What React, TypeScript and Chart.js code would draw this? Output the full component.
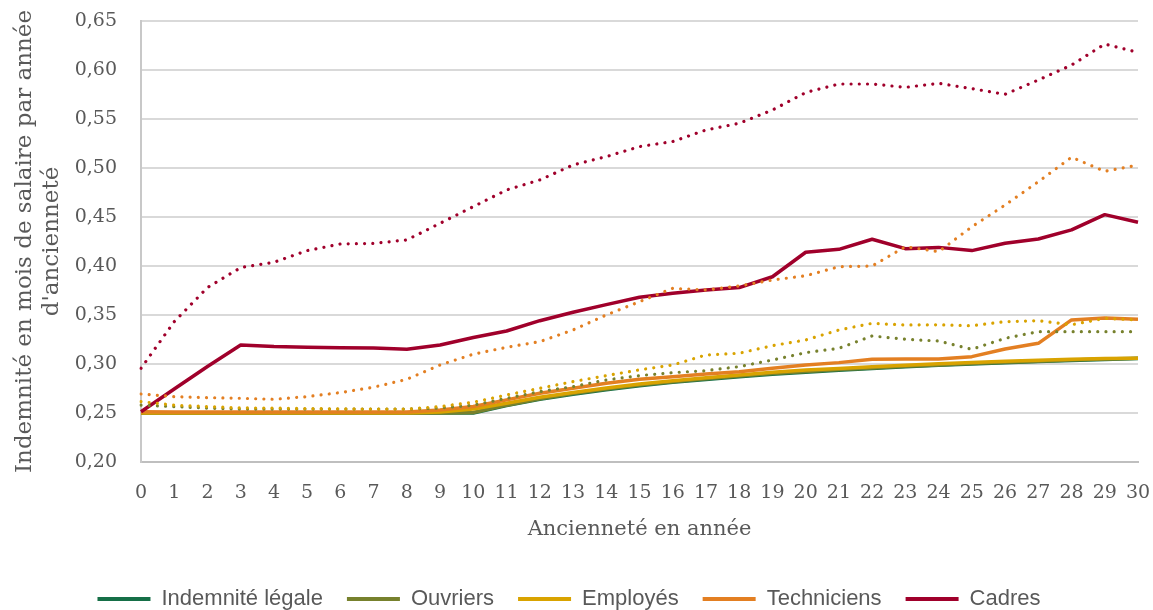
import React, { useEffect, useRef } from 'react';
import { Chart, registerables } from 'chart.js';

Chart.register(...registerables);

const years = ['0', '1', '2', '3', '4', '5', '6', '7', '8', '9', '10', '11', '12', '13', '14', '15', '16', '17', '18', '19', '20', '21', '22', '23', '24', '25', '26', '27', '28', '29', '30'];

const legale = [0.25, 0.25, 0.25, 0.25, 0.25, 0.25, 0.25, 0.25, 0.25, 0.25, 0.25, 0.2576, 0.2639, 0.2692, 0.2738, 0.2778, 0.2813, 0.2843, 0.287, 0.2895, 0.2917, 0.2937, 0.2955, 0.2971, 0.2986, 0.3, 0.3013, 0.3025, 0.3036, 0.3046, 0.3056];
const ouvriers = [0.25, 0.25, 0.25, 0.25, 0.25, 0.25, 0.25, 0.25, 0.25, 0.25, 0.2505, 0.258, 0.2645, 0.27, 0.2745, 0.2785, 0.282, 0.285, 0.2877, 0.2902, 0.2923, 0.2943, 0.296, 0.2976, 0.299, 0.3004, 0.3017, 0.3029, 0.304, 0.305, 0.3058];
const employes = [0.25, 0.25, 0.25, 0.25, 0.25, 0.25, 0.25, 0.25, 0.25, 0.251, 0.254, 0.26, 0.266, 0.271, 0.2755, 0.2795, 0.283, 0.286, 0.2888, 0.2915, 0.2938, 0.2955, 0.2972, 0.2988, 0.3002, 0.3015, 0.3027, 0.3038, 0.3048, 0.3057, 0.3058];
const techniciens = [0.2513, 0.251, 0.251, 0.251, 0.251, 0.251, 0.251, 0.251, 0.251, 0.253, 0.2566, 0.2634, 0.2702, 0.2752, 0.2803, 0.2844, 0.287, 0.2898, 0.2922, 0.2956, 0.299, 0.3014, 0.3048, 0.305, 0.3052, 0.3075, 0.3153, 0.3211, 0.345, 0.347, 0.3456];
const cadres = [0.2513, 0.2745, 0.2975, 0.3194, 0.3178, 0.317, 0.3167, 0.3163, 0.315, 0.3194, 0.327, 0.3337, 0.3442, 0.3528, 0.3606, 0.3681, 0.3722, 0.3755, 0.378, 0.389, 0.414, 0.417, 0.4273, 0.4177, 0.419, 0.4157, 0.4232, 0.4276, 0.4368, 0.4524, 0.4446];

const ouvriersPointille = [0.258, 0.2565, 0.255, 0.254, 0.254, 0.254, 0.254, 0.254, 0.254, 0.255, 0.258, 0.265, 0.2718, 0.2769, 0.2837, 0.2881, 0.2912, 0.2932, 0.2973, 0.3041, 0.3116, 0.316, 0.3286, 0.3252, 0.3235, 0.315, 0.3262, 0.333, 0.333, 0.333, 0.333];
const employesPointille = [0.2616, 0.258, 0.2565, 0.2552, 0.255, 0.2545, 0.2542, 0.254, 0.254, 0.2566, 0.261, 0.2684, 0.2752, 0.282, 0.2881, 0.294, 0.299, 0.3092, 0.311, 0.3187, 0.3245, 0.3347, 0.3415, 0.3398, 0.34, 0.339, 0.3432, 0.3442, 0.34, 0.3466, 0.345];
const techniciensPointille = [0.2694, 0.2667, 0.2657, 0.265, 0.264, 0.2667, 0.2708, 0.2763, 0.2844, 0.299, 0.31, 0.317, 0.3228, 0.3347, 0.35, 0.3636, 0.3772, 0.3755, 0.3796, 0.3857, 0.39, 0.3993, 0.4, 0.4197, 0.4146, 0.44, 0.4622, 0.486, 0.511, 0.4966, 0.503];
const cadresPointille = [0.2956, 0.3432, 0.378, 0.3984, 0.4038, 0.4157, 0.4225, 0.423, 0.4266, 0.4436, 0.4606, 0.4776, 0.4878, 0.5031, 0.5116, 0.5218, 0.527, 0.5388, 0.5456, 0.5592, 0.577, 0.5857, 0.5857, 0.5823, 0.5864, 0.581, 0.5752, 0.5898, 0.605, 0.6265, 0.618];

const seriesNames = ['Indemnité légale', 'Ouvriers', 'Employés', 'Techniciens', 'Cadres'];
const seriesColors = ['#166F47', '#77812D', '#D9A300', '#E37F22', '#A0002B'];

const yTitle = ['Indemnité en mois de salaire par année', "d'ancienneté"];
const xTitle = 'Ancienneté en année';

export default function App() {
  const ref = useRef<HTMLCanvasElement>(null);

  useEffect(() => {
    document.body.style.margin = '0';
    const canvas = ref.current;
    if (!canvas) return;

    const solid = (label: string, data: number[], color: string, order: number) => ({
      label,
      data,
      borderColor: color,
      backgroundColor: color,
      borderWidth: 3.5,
      pointRadius: 0,
      pointHoverRadius: 0,
      tension: 0,
      fill: false,
      order,
      borderJoinStyle: 'round' as const,
    });
    const dotted = (label: string, data: number[], color: string, order: number) => ({
      label,
      data,
      borderColor: color,
      backgroundColor: color,
      borderWidth: 3.2,
      borderDash: [0.001, 8.2],
      borderCapStyle: 'round' as const,
      pointRadius: 0,
      pointHoverRadius: 0,
      tension: 0,
      fill: false,
      order,
    });

    const serif = 'DejaVu Serif';
    const clear = 'rgba(0,0,0,0)';
    const chart = new Chart(canvas, {
      type: 'line',
      data: {
        labels: years,
        datasets: [
          solid(seriesNames[0], legale, seriesColors[0], 9),
          solid(seriesNames[1], ouvriers, seriesColors[1], 8),
          solid(seriesNames[2], employes, seriesColors[2], 7),
          solid(seriesNames[3], techniciens, seriesColors[3], 6),
          solid(seriesNames[4], cadres, seriesColors[4], 5),
          dotted(seriesNames[1] + ' (pointillé)', ouvriersPointille, seriesColors[1], 4),
          dotted(seriesNames[2] + ' (pointillé)', employesPointille, seriesColors[2], 3),
          dotted(seriesNames[3] + ' (pointillé)', techniciensPointille, seriesColors[3], 2),
          dotted(seriesNames[4] + ' (pointillé)', cadresPointille, seriesColors[4], 1),
        ],
      },
      options: {
        responsive: false,
        animation: false,
        devicePixelRatio: 1,
        layout: { padding: { top: 21, right: 15, bottom: 0, left: 0 } },
        plugins: {
          tooltip: { enabled: false },
          legend: {
            display: true,
            position: 'bottom',
            labels: {
              boxWidth: 53,
              boxHeight: 4,
              padding: 24,
              color: '#595959',
              font: { family: 'Liberation Sans', size: 22 },
              generateLabels: () =>
                seriesNames.map((name, i) => ({
                  text: name,
                  fillStyle: seriesColors[i],
                  strokeStyle: seriesColors[i],
                  lineWidth: 0,
                  hidden: false,
                  datasetIndex: i,
                  fontColor: '#595959',
                })),
            },
          },
        },
        scales: {
          x: {
            offset: false,
            afterFit: (s: any) => { s.height = 102; },
            grid: { display: true, drawOnChartArea: false, color: clear, tickColor: clear, drawTicks: true, tickLength: 20 },
            border: { display: true, color: '#BFBFBF', width: 2 },
            ticks: {
              autoSkip: false,
              maxRotation: 0,
              padding: 0,
              color: '#595959',
              font: { family: serif, size: 19 },
            },
            title: {
              display: true,
              text: xTitle,
              color: '#595959',
              font: { family: serif, size: 21 },
              padding: { top: 0, bottom: 22 },
            },
          },
          y: {
            min: 0.2,
            max: 0.65,
            afterFit: (s: any) => { s.width = 141; },
            grid: { color: '#D9D9D9', lineWidth: 2, drawTicks: true, tickLength: 24, tickColor: clear },
            border: { display: true, color: '#C8C8C8', width: 2 },
            ticks: {
              stepSize: 0.05,
              padding: 0,
              color: '#595959',
              font: { family: serif, size: 19 },
              callback: (v: any) => Number(v).toFixed(2).replace('.', ','),
            },
            title: {
              display: true,
              text: yTitle,
              color: '#595959',
              font: { family: serif, size: 23, lineHeight: 1.2 },
              padding: { top: 11, bottom: 0 },
            },
          },
        },
      },
    } as any);

    return () => chart.destroy();
  }, []);

  return (
    <div style={{ width: 1153, height: 610, overflow: 'hidden' }}>
      <canvas ref={ref} width={1153} height={620} style={{ display: 'block' }} />
    </div>
  );
}
